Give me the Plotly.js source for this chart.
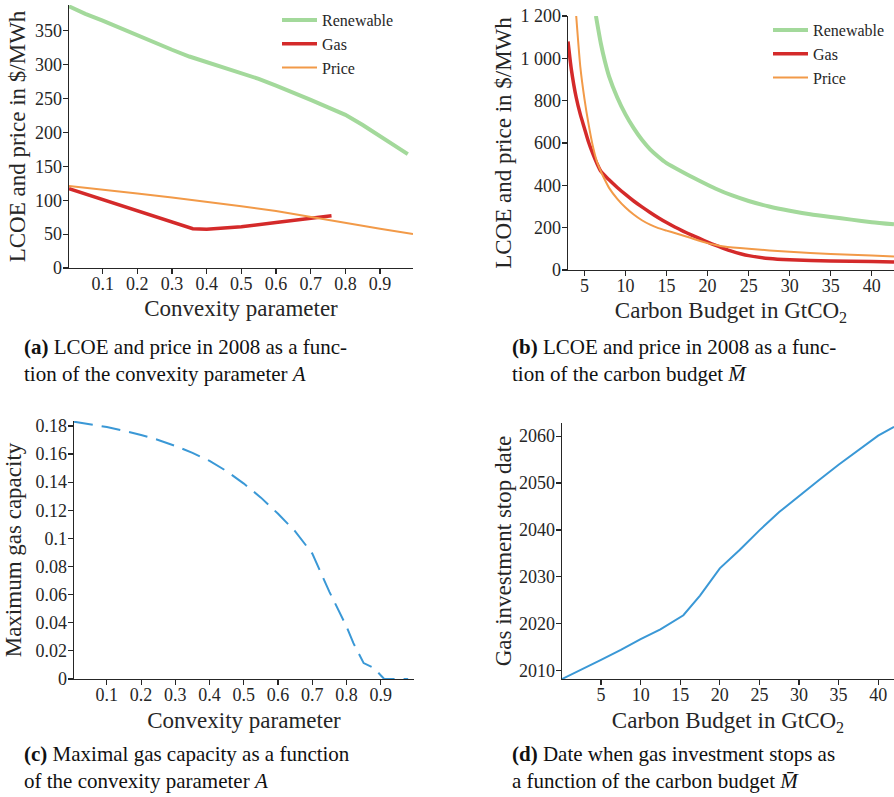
<!DOCTYPE html>
<html>
<head>
<meta charset="utf-8">
<script src="https://cdn.plot.ly/plotly-3.0.1.min.js"></script>
<style>html,body{margin:0;padding:0;background:#fff}</style>
</head>
<body>
<div id="chart" style="width:894px;height:797px"></div>
<script>
// ---------- Panel (a): LCOE and price vs convexity parameter ----------
const aRenX = [0.003, 0.05, 0.1, 0.15, 0.2, 0.25, 0.3, 0.35, 0.4, 0.45, 0.5, 0.55, 0.6, 0.65, 0.7, 0.75, 0.8, 0.85, 0.9, 0.95, 0.98];
const aRenY = [386, 375, 365, 354, 343, 333, 322, 312, 304, 296, 288, 279, 269, 259, 248, 237, 226, 211, 195, 178, 168];
const aGasX = [0.003, 0.1, 0.2, 0.3, 0.36, 0.4, 0.5, 0.6, 0.7, 0.76];
const aGasY = [117, 101, 85, 69, 58, 57, 61, 67, 73, 77];
const aPriceX = [0.003, 0.1, 0.2, 0.3, 0.4, 0.5, 0.6, 0.7, 0.8, 0.9, 0.995];
const aPriceY = [121, 116, 110, 104, 98, 91, 84, 75, 67, 58, 50];

// ---------- Panel (b): LCOE and price vs carbon budget ----------
const bRenX = [6.4, 7, 7.5, 8, 9, 10, 11, 12, 13, 14, 15, 17, 19, 21, 23, 25, 27.5, 30, 32.5, 35, 37.5, 40, 42.7];
const bRenY = [1200, 1070, 985, 915, 815, 735, 670, 615, 570, 535, 505, 462, 422, 384, 352, 326, 300, 280, 263, 250, 238, 226, 216];
const bGasX = [3.0, 3.4, 4, 4.5, 5, 5.5, 6, 6.5, 7, 8, 9, 10, 11, 12, 13, 14, 15, 16, 17, 18, 19, 20, 21, 22, 23, 24, 25, 27.5, 30, 35, 40, 42.7];
const bGasY = [1080, 950, 815, 735, 670, 605, 552, 505, 466, 426, 390, 357, 326, 298, 272, 247, 224, 203, 184, 166, 149, 132, 116, 101, 88, 77, 68, 54, 48, 43, 40, 38];
const bPriceX = [4.0, 4.5, 5, 5.5, 6, 6.5, 7, 7.5, 8, 9, 10, 11, 12, 13, 14, 15, 16, 17, 18, 19, 20, 21, 22, 25, 30, 35, 40, 42.7];
const bPriceY = [1200, 960, 810, 690, 590, 515, 466, 425, 388, 336, 295, 262, 235, 214, 198, 186, 175, 163, 151, 138, 127, 118, 111, 100, 86, 76, 68, 64];

// ---------- Panel (c): maximal gas capacity vs convexity parameter ----------
const cX = [0.004, 0.05, 0.1, 0.15, 0.2, 0.25, 0.3, 0.35, 0.4, 0.45, 0.5, 0.55, 0.6, 0.65, 0.7, 0.75, 0.8, 0.82, 0.84, 0.85, 0.88, 0.9, 0.91, 0.98];
const cY = [0.183, 0.1812, 0.1792, 0.1766, 0.1736, 0.1700, 0.1658, 0.1608, 0.1552, 0.1478, 0.139, 0.129, 0.1175, 0.105, 0.0892, 0.062, 0.0373, 0.0255, 0.016, 0.0113, 0.0078, 0.0024, 0, 0];

// ---------- Panel (d): gas investment stop date vs carbon budget ----------
const dX = [0.07, 2.5, 5, 7.5, 10, 12.5, 15.4, 17.5, 19, 20, 22.5, 25, 27.5, 30, 32.5, 35, 37.5, 40, 42];
const dY = [2008.2, 2010.3, 2012.3, 2014.4, 2016.7, 2018.8, 2021.8, 2026, 2029.6, 2031.8, 2035.7, 2039.9, 2043.8, 2047.3, 2050.6, 2053.9, 2057.1, 2060.1, 2062];

const seriesNames = ['Renewable', 'Gas', 'Price'];
const captions = [
  '<b>(a)</b> LCOE and price in 2008 as a func-<br>tion of the convexity parameter <i>A</i>',
  '<b>(b)</b> LCOE and price in 2008 as a func-<br>tion of the carbon budget <i>M̄</i>',
  '<b>(c)</b> Maximal gas capacity as a function<br>of the convexity parameter <i>A</i>',
  '<b>(d)</b> Date when gas investment stops as<br>a function of the carbon budget <i>M̄</i>'
];

const W = 894, H = 797;
const px = v => v / W;
const py = v => 1 - v / H;
const FONT = 'Liberation Serif';
const INK = '#262626';
const cGreen = '#a3d99b', cRed = '#d42a2a', cOrange = '#f29a48', cBlue = '#3a98d6';

const traces = [
  {x: aRenX, y: aRenY, name: seriesNames[0], mode: 'lines', line: {color: cGreen, width: 4}, xaxis: 'x', yaxis: 'y', legend: 'legend'},
  {x: aGasX, y: aGasY, name: seriesNames[1], mode: 'lines', line: {color: cRed, width: 3.5}, xaxis: 'x', yaxis: 'y', legend: 'legend'},
  {x: aPriceX, y: aPriceY, name: seriesNames[2], mode: 'lines', line: {color: cOrange, width: 2}, xaxis: 'x', yaxis: 'y', legend: 'legend'},
  {x: bRenX, y: bRenY, name: seriesNames[0], mode: 'lines', line: {color: cGreen, width: 4, shape: 'spline', smoothing: 0.6}, xaxis: 'x2', yaxis: 'y2', legend: 'legend2'},
  {x: bGasX, y: bGasY, name: seriesNames[1], mode: 'lines', line: {color: cRed, width: 3.5, shape: 'spline', smoothing: 0.6}, xaxis: 'x2', yaxis: 'y2', legend: 'legend2'},
  {x: bPriceX, y: bPriceY, name: seriesNames[2], mode: 'lines', line: {color: cOrange, width: 2, shape: 'spline', smoothing: 0.6}, xaxis: 'x2', yaxis: 'y2', legend: 'legend2'},
  {x: cX, y: cY, name: 'Maximum gas capacity', mode: 'lines', line: {color: cBlue, width: 2, dash: '19px,9px'}, xaxis: 'x3', yaxis: 'y3', showlegend: false},
  {x: dX, y: dY, name: 'Gas investment stop date', mode: 'lines', line: {color: cBlue, width: 2}, xaxis: 'x4', yaxis: 'y4', showlegend: false}
];

function ax(isX, extra) {
  return Object.assign({
    showline: true, linecolor: INK, linewidth: 1.4,
    ticks: 'outside', ticklen: 5, tickwidth: 1.2, tickcolor: INK,
    showgrid: false, zeroline: false, automargin: false,
    ticklabelstandoff: isX ? -6 : -3,
    tickfont: {family: FONT, size: 18, color: INK}
  }, extra);
}
function ttl(text, standoff) {
  return {text: text, standoff: standoff, font: {family: FONT, size: 23, color: INK}};
}

// caption anchor: left x and vertical centre (px) of the two-line block
const capPos = [[22, 360], [510, 360], [22, 767], [510, 767]];
const annotations = captions.map((c, i) => ({
  text: c, xref: 'paper', yref: 'paper', x: px(capPos[i][0]), y: py(capPos[i][1]),
  xanchor: 'left', yanchor: 'middle', showarrow: false, align: 'left',
  font: {family: FONT, size: 21, color: '#111'}
}));

const layout = {
  width: W, height: H,
  font: {family: FONT, size: 18, color: INK},
  margin: {l: 0, r: 0, t: 0, b: 0, autoexpand: false},
  paper_bgcolor: '#fff', plot_bgcolor: '#fff',
  separators: '. ',
  xaxis: ax(true, {domain: [px(69), px(413)], range: [0.003, 0.995], dtick: 0.1, tick0: 0, anchor: 'y',
    title: ttl('Convexity parameter', 7)}),
  yaxis: ax(false, {domain: [py(268), py(5)], range: [0, 388], dtick: 50, tick0: 0, anchor: 'x',
    title: ttl('LCOE and price in $/MWh', 3)}),
  xaxis2: ax(true, {domain: [px(568), 1], range: [3, 42.7], dtick: 5, tick0: 0, anchor: 'y2',
    title: ttl('Carbon Budget in GtCO<sub>2</sub>', 7)}),
  yaxis2: ax(false, {domain: [py(270), py(16)], range: [0, 1200], dtick: 200, tick0: 0, anchor: 'x2', separatethousands: true,
    title: ttl('LCOE and price in $/MWh', 2)}),
  xaxis3: ax(true, {domain: [px(74), px(414)], range: [0.004, 0.997], dtick: 0.1, tick0: 0, anchor: 'y3',
    title: ttl('Convexity parameter', 8)}),
  yaxis3: ax(false, {domain: [py(679), py(421)], range: [0, 0.1835], dtick: 0.02, tick0: 0, anchor: 'x3',
    title: ttl('Maximum gas capacity', 7)}),
  xaxis4: ax(true, {domain: [px(562), 1], range: [0.07, 42.0], dtick: 5, tick0: 0, anchor: 'y4',
    title: ttl('Carbon Budget in GtCO<sub>2</sub>', 8)}),
  yaxis4: ax(false, {domain: [py(679), py(423)], range: [2008.2, 2062.8], dtick: 10, tick0: 2000, anchor: 'x4',
    title: ttl('Gas investment stop date', 1)}),
  legend: {x: px(277), y: py(3), xanchor: 'left', yanchor: 'top', bgcolor: 'rgba(0,0,0,0)',
    font: {family: FONT, size: 16, color: INK}, tracegroupgap: 0, itemwidth: 35},
  legend2: {x: px(768), y: py(13), xanchor: 'left', yanchor: 'top', bgcolor: 'rgba(0,0,0,0)',
    font: {family: FONT, size: 16, color: INK}, tracegroupgap: 0, itemwidth: 35},
  annotations: annotations,
  showlegend: true
};

Plotly.newPlot('chart', traces, layout, {displayModeBar: false, staticPlot: true});
</script>
</body>
</html>
